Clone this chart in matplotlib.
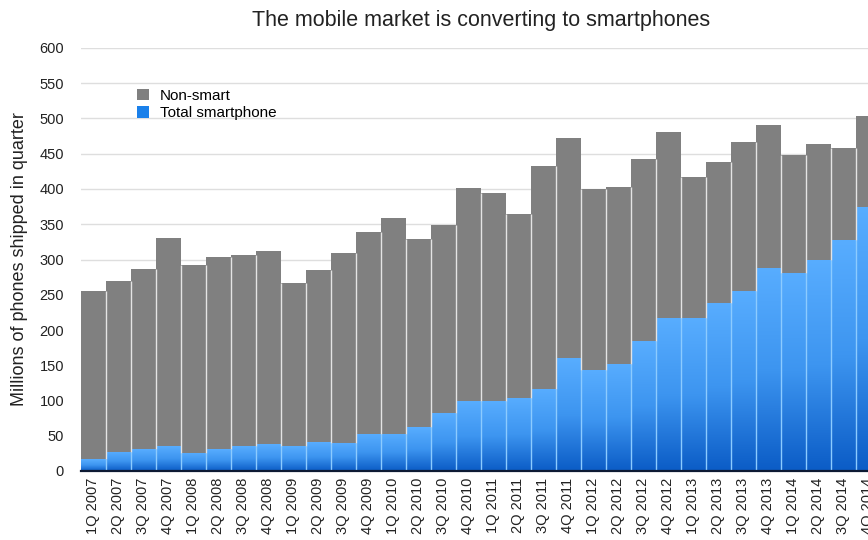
import numpy as np
import matplotlib
matplotlib.use('Agg')
import matplotlib.pyplot as plt
from matplotlib.colors import LinearSegmentedColormap
from matplotlib.patches import Patch

plt.rcParams['font.family'] = ['Liberation Sans', 'DejaVu Sans']

# quarters shown on the x axis
quarters = [f"{q}Q {y}" for y in range(2007, 2015) for q in range(1, 5)]

# millions of phones shipped per quarter
total = [255, 270, 287, 330, 292, 303, 307, 312, 267, 285, 309, 339,
         359, 329, 349, 402, 394, 364, 433, 472, 400, 403, 443, 481,
         417, 439, 466, 491, 448, 464, 458, 503]
smartphone = [17, 27, 31, 35, 26, 31, 35, 38, 35, 41, 40, 53,
              53, 62, 82, 99, 99, 104, 117, 160, 143, 152, 184, 217,
              217, 239, 256, 288, 281, 300, 327, 374]

yticks = list(range(0, 601, 50))

total = np.array(total)
smart = np.array(smartphone)
non_smart = total - smart
x = np.arange(len(quarters))

W, H = 868, 540
fig = plt.figure(figsize=(W / 100, H / 100), dpi=100)
# axes runs past the right edge, the last bar is cut like in the original
ax = fig.add_axes([80.7 / W, 69 / H, 800 / W, 423 / H])

ax.grid(axis='y', color='#dedede', lw=1.0, zorder=0)
ax.set_axisbelow(True)

# smartphone part: vertical gradient in every bar
grad = np.linspace(0, 1, 256).reshape(-1, 1)
blue = LinearSegmentedColormap.from_list('blue', ['#0b5cc6', '#3d95f0', '#58adff'])
for xi, s in zip(x, smart):
    ax.imshow(grad, extent=(xi - 0.5, xi + 0.5, 0, s), origin='lower',
              cmap=blue, aspect='auto', zorder=2, interpolation='bilinear')

# non-smart part
ax.bar(x, non_smart, bottom=smart, width=1.0, color='#808080', lw=0, zorder=2)

# thin light separators between neighbouring bars
b = x[:-1] + 0.5
low = np.minimum(smart[:-1], smart[1:])
high = np.minimum(total[:-1], total[1:])
ax.vlines(b, 0, low, color='#8ccbff', lw=1.0, zorder=3)
ax.vlines(b, low, high, color='#e4e4e4', lw=1.0, zorder=3)

ax.set_xlim(-0.5, len(x) - 0.5)
ax.set_ylim(0, 600)

ax.set_yticks(yticks)
ax.set_xticks(x, quarters, rotation=90)
ax.tick_params(axis='y', length=0, pad=12, labelsize=10.5, labelcolor='#222222')
ax.tick_params(axis='x', length=0, pad=5, labelsize=10.5, labelcolor='#222222')

for side in ['left', 'top', 'right']:
    ax.spines[side].set_visible(False)
ax.spines['bottom'].set_color('#0d1a33')
ax.spines['bottom'].set_linewidth(1.6)
ax.spines['bottom'].set_zorder(4)

ax.set_title('The mobile market is converting to smartphones', fontsize=15.5,
             color='#222222', pad=16)
ax.set_ylabel('Millions of phones shipped in quarter', fontsize=13,
              color='#222222', labelpad=8)

handles = [Patch(facecolor='#808080', label='Non-smart'),
           Patch(facecolor='#1a80ea', label='Total smartphone')]
ax.legend(handles=handles, loc='upper left', bbox_to_anchor=(0.061, 0.922),
          frameon=False, fontsize=11, handlelength=0.8, handleheight=0.8,
          handletextpad=0.7, labelspacing=0.2, borderpad=0)

fig.savefig('out.png', dpi=100)
